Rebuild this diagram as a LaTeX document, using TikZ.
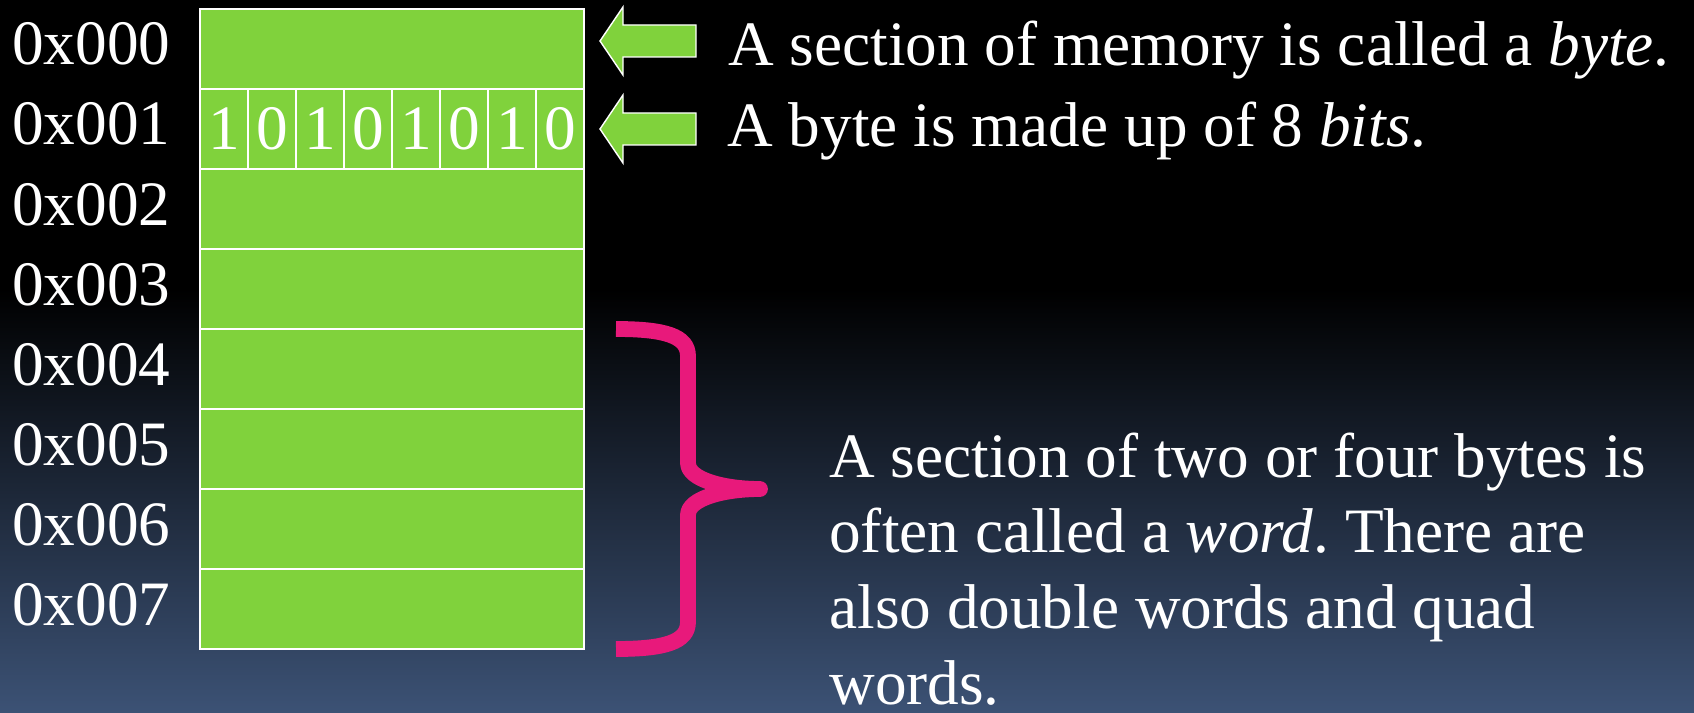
\documentclass[tikz,border=0pt]{standalone}
\usepackage{fontspec}
\setmainfont{Liberation Serif}
\usetikzlibrary{positioning}
\frenchspacing

\definecolor{memgreen}{HTML}{80D23C}
\definecolor{bracepink}{HTML}{E8197B}
\definecolor{slateblue}{HTML}{3C5275}

\begin{document}
\begin{tikzpicture}[x=0.02cm, y=-0.02cm,
  every node/.style={text=white, font=\fontsize{36}{43}\selectfont},
  cell/.style={draw=white, line width=1pt, fill=memgreen, inner sep=0pt,
               minimum width=7.68cm, minimum height=1.6cm},
  bitcell/.style={draw=white, line width=1pt, fill=memgreen, inner sep=0pt,
                  minimum width=0.96cm, minimum height=1.6cm},
  addr/.style={anchor=base west, inner sep=0pt},
  note/.style={anchor=base west, inner sep=0pt, align=left},
  pointer/.style={fill=memgreen, draw=white, line width=0.8pt},
  wordbrace/.style={draw=bracepink, line width=9pt, line join=round}
]
  \useasboundingbox (0,0) rectangle (1694,713);

  % Background: black fading into slate blue
  \fill[black] (0,0) rectangle (1694,290);
  \shade[top color=black, bottom color=slateblue] (0,289) rectangle (1694,713);

  % Memory cells and their addresses
  \foreach \i in {0,...,7} {
    \node[cell] (row\i) at (392,49+80*\i) {};
    \node[addr] (addr\i) at (12,65+80*\i) {0x00\i};
  }

  % Bits of the second byte
  \foreach \b [count=\j from 0] in {1,0,1,0,1,0,1,0}
    \node[bitcell] (bit\j) at (224+48*\j,129) {\b};

  % Arrows pointing at the first two bytes
  \foreach \y in {41,129}
    \draw[pointer] (600,\y) -- (623,\y-34) -- (623,\y-16) -- (696,\y-16)
      -- (696,\y+16) -- (623,\y+16) -- (623,\y+34) -- cycle;

  \node[note] (bytenote) at (728,66) {A section of memory is called a \emph{byte}.};
  \node[note] (bitsnote) at (727,147) {A byte is made up of 8 \emph{bits}.};

  % Brace over the last four bytes
  \draw[wordbrace] (616,329) .. controls (665,329) and (688,336) .. (688,356)
    -- (688,463) .. controls (688,480) and (725,489) .. (760,489)
    .. controls (725,489) and (688,498) .. (688,515)
    -- (688,622) .. controls (688,642) and (665,649) .. (616,649);

  % base anchor sits on the last line here
  \node[note] (wordnote) at (829,704) {A section of two or four bytes is\\
    often called a \emph{word}. There are\\
    also double words and quad\\
    words.};
\end{tikzpicture}
\end{document}
